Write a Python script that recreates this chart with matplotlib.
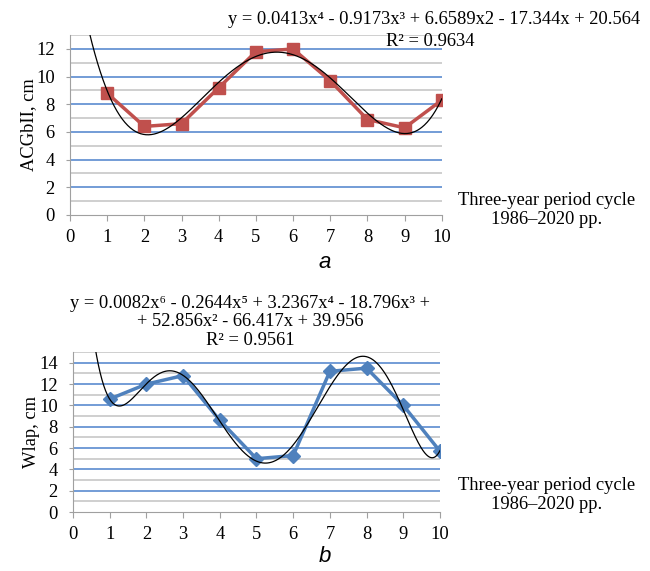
import numpy as np
import matplotlib
matplotlib.use("Agg")
import matplotlib.pyplot as plt
from matplotlib.ticker import MultipleLocator

plt.rcParams['font.family'] = ['Liberation Serif', 'DejaVu Serif']

cycles = [1, 2, 3, 4, 5, 6, 7, 8, 9, 10]
acgb = [8.8, 6.4, 6.6, 9.2, 11.8, 12.0, 9.7, 6.9, 6.3, 8.3]
wlap = [10.6, 12.0, 12.8, 8.6, 5.0, 5.3, 13.2, 13.5, 10.0, 5.7]

eq_a = "y = 0.0413x\u2074 - 0.9173x\u00b3 + 6.6589x2 - 17.344x + 20.564"
r2_a = "R\u00b2 = 0.9634"
eq_b = ("y = 0.0082x\u2076 - 0.2644x\u2075 + 3.2367x\u2074 - 18.796x\u00b3 +\n"
        "+ 52.856x\u00b2 - 66.417x + 39.956\nR\u00b2 = 0.9561")
xlabel = "Three-year period cycle\n1986\u20132020 pp."

FS = 13.3

fig = plt.figure(figsize=(6.5, 5.71), dpi=100)
ax1 = fig.add_axes([0.1077, 0.6235, 0.572, 0.315])
ax2 = fig.add_axes([0.1123, 0.1033, 0.5646, 0.280])


def style(ax, ymax):
    ax.set_xlim(0, 10)
    ax.set_ylim(0, ymax)
    ax.xaxis.set_major_locator(MultipleLocator(1))
    ax.yaxis.set_major_locator(MultipleLocator(2))
    # grey lines on odd values, blue on even ones
    for y in np.arange(1, ymax + 1, 2):
        ax.axhline(y, color='#cfcfcf', lw=1.4, zorder=1)
    for y in np.arange(2, ymax + 1, 2):
        ax.axhline(y, color='#5b8bd0', lw=1.2, zorder=1)
    for s in ['top', 'right']:
        ax.spines[s].set_visible(False)
    ax.spines['left'].set_color('#a0a0a0')
    ax.spines['bottom'].set_color('#a0a0a0')
    ax.tick_params(axis='y', length=3, color='#a0a0a0', labelsize=FS, pad=8)
    ax.tick_params(axis='x', length=4, color='#a0a0a0', labelsize=FS, pad=6)


xs = np.linspace(0.2, 10, 400)

style(ax1, 13)
ax1.plot(cycles, acgb, color='#c0504d', lw=2.5, marker='s', ms=8, zorder=3)
ax1.plot(xs, np.polyval(np.polyfit(cycles, acgb, 4), xs), color='black',
         lw=0.9, zorder=4)
ax1.set_ylabel("ACGbII, cm", fontsize=FS, labelpad=-1)

style(ax2, 15)
ax2.plot(cycles, wlap, color='#4f81bd', lw=2.5, marker='D', ms=7, zorder=3)
ax2.plot(xs, np.polyval(np.polyfit(cycles, wlap, 6), xs), color='black',
         lw=0.9, zorder=4)
ax2.set_ylabel("Wlap, cm", fontsize=FS, labelpad=-1)

fig.text(434 / 650, 1 - 20 / 571, eq_a, fontsize=FS, ha='center', va='center')
fig.text(430 / 650, 1 - 41 / 571, r2_a, fontsize=FS, ha='center', va='center')
fig.text(250 / 650, 1 - 322 / 571, eq_b, fontsize=FS, ha='center', va='center',
         linespacing=1.12)

fig.text(547 / 650, 1 - 210 / 571, xlabel, fontsize=FS, ha='center', va='center')
fig.text(547 / 650, 1 - 495 / 571, xlabel, fontsize=FS, ha='center', va='center')

fig.text(325 / 650, 1 - 262 / 571, "a", fontsize=16, style='italic',
         family='Liberation Sans', ha='center', va='center')
fig.text(325 / 650, 1 - 556 / 571, "b", fontsize=16, style='italic',
         family='Liberation Sans', ha='center', va='center')

fig.savefig("out.png", dpi=100)
